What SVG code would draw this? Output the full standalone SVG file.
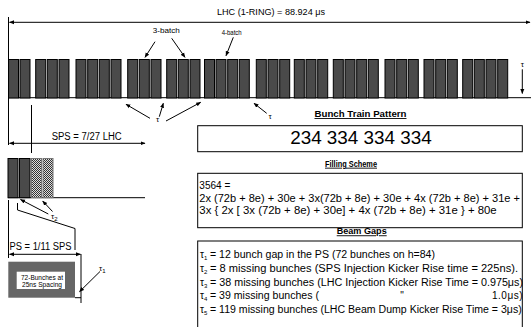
<svg xmlns="http://www.w3.org/2000/svg" width="531" height="327" viewBox="0 0 531 327">
<style>
text{font-family:"Liberation Sans",Arial,sans-serif;fill:#000}
.p{fill:#4a4a4a;stroke:#000;stroke-width:1}
.h{fill:url(#chk);stroke:#777;stroke-width:1}
.ln{stroke:#000;stroke-width:1;fill:none}
.ar{stroke:#000;stroke-width:1;fill:none;marker-end:url(#ah)}
.ar2{stroke:#000;stroke-width:1;fill:none;marker-end:url(#ah);marker-start:url(#ah)}
.box{fill:#fff;stroke:#000;stroke-width:1}
.t{font-size:10px}
.ttl{font-size:9px;font-weight:bold;text-decoration:underline}
.tau{font-size:8px}
.sub{font-size:6px}
</style>
<defs>
<marker id="ah" viewBox="0 0 10 10" refX="9" refY="5" markerWidth="5" markerHeight="5" orient="auto-start-reverse" markerUnits="userSpaceOnUse"><path d="M0,1 L10,5 L0,9 z" fill="#000"/></marker>
<pattern id="chk" width="2" height="2" patternUnits="userSpaceOnUse"><rect width="2" height="2" fill="#ddd"/><rect width="1" height="1" fill="#333"/><rect x="1" y="1" width="1" height="1" fill="#333"/></pattern>
</defs>
<rect width="531" height="327" fill="#fff"/>

<g id="lhc-scale">
<text x="271" y="15" font-size="9" text-anchor="middle" textLength="108" lengthAdjust="spacingAndGlyphs">LHC (1-RING) = 88.924 μs</text>
<line class="ln" x1="8.5" y1="17" x2="8.5" y2="145"/>
</g>

<g id="lhc-train">
<line class="ln" x1="8" y1="97.7" x2="531" y2="97.7"/>
<rect class="p" x="8.5" y="59.5" width="10" height="38.5"/>
<rect class="p" x="20" y="59.5" width="10" height="38.5"/>
<rect class="p" x="35.7" y="59.5" width="10" height="38.5"/>
<rect class="p" x="47.3" y="59.5" width="10" height="38.5"/>
<rect class="p" x="59" y="59.5" width="10" height="38.5"/>
<rect class="p" x="76" y="59.5" width="10" height="38.5"/>
<rect class="p" x="87.7" y="59.5" width="10" height="38.5"/>
<rect class="p" x="99.3" y="59.5" width="10" height="38.5"/>
<rect class="p" x="111" y="59.5" width="10" height="38.5"/>
<rect class="p" x="127.7" y="59.5" width="10" height="38.5"/>
<rect class="p" x="139.3" y="59.5" width="10" height="38.5"/>
<rect class="p" x="151" y="59.5" width="10" height="38.5"/>
<rect class="p" x="166.7" y="59.5" width="10" height="38.5"/>
<rect class="p" x="178.3" y="59.5" width="10" height="38.5"/>
<rect class="p" x="190" y="59.5" width="10" height="38.5"/>
<rect class="p" x="204.5" y="59.5" width="10" height="38.5"/>
<rect class="p" x="216" y="59.5" width="10" height="38.5"/>
<rect class="p" x="227.7" y="59.5" width="10" height="38.5"/>
<rect class="p" x="239.3" y="59.5" width="10" height="38.5"/>
<rect class="p" x="256.3" y="59.5" width="10" height="38.5"/>
<rect class="p" x="268" y="59.5" width="10" height="38.5"/>
<rect class="p" x="279.7" y="59.5" width="10" height="38.5"/>
<rect class="p" x="294.3" y="59.5" width="10" height="38.5"/>
<rect class="p" x="306" y="59.5" width="10" height="38.5"/>
<rect class="p" x="317.7" y="59.5" width="10" height="38.5"/>
<rect class="p" x="333.3" y="59.5" width="10" height="38.5"/>
<rect class="p" x="345" y="59.5" width="10" height="38.5"/>
<rect class="p" x="356.7" y="59.5" width="10" height="38.5"/>
<rect class="p" x="368.3" y="59.5" width="10" height="38.5"/>
<rect class="p" x="385" y="59.5" width="10" height="38.5"/>
<rect class="p" x="396.7" y="59.5" width="10" height="38.5"/>
<rect class="p" x="408.3" y="59.5" width="10" height="38.5"/>
<rect class="p" x="424" y="59.5" width="10" height="38.5"/>
<rect class="p" x="435.7" y="59.5" width="10" height="38.5"/>
<rect class="p" x="447.3" y="59.5" width="10" height="38.5"/>
<rect class="p" x="462.7" y="59.5" width="10" height="38.5"/>
<rect class="p" x="474.3" y="59.5" width="10" height="38.5"/>
<rect class="p" x="486" y="59.5" width="10" height="38.5"/>
<rect class="p" x="497.7" y="59.5" width="10" height="38.5"/>
</g>

<g id="labels-batch">
<text x="166.3" y="33" font-size="8" text-anchor="middle" textLength="27" lengthAdjust="spacingAndGlyphs">3-batch</text>
<text x="231.7" y="35" font-size="7" text-anchor="middle" textLength="20" lengthAdjust="spacingAndGlyphs">4-batch</text>
<text x="157.5" y="122" class="tau" text-anchor="middle">τ</text>
<text x="270" y="119" class="tau" text-anchor="middle">τ</text>
<text x="522.3" y="67" class="tau" text-anchor="middle">τ</text>
</g>

<g id="sps">
<text x="86.7" y="139.5" class="t" text-anchor="middle" textLength="70" lengthAdjust="spacingAndGlyphs">SPS = 7/27 LHC</text>
<line class="ln" x1="31.5" y1="105" x2="31.5" y2="153"/>
<line class="ln" x1="8" y1="197.7" x2="145" y2="197.7"/>
<rect class="p" x="8" y="158.5" width="10" height="39.2"/>
<rect class="p" x="19.5" y="158.5" width="10.5" height="39.2"/>
<rect class="h" x="31.5" y="158.5" width="10" height="39.2"/>
<rect class="h" x="43" y="158.5" width="10" height="39.2"/>
<text x="51" y="219" class="tau">τ<tspan class="sub" dy="2">2</tspan></text>
</g>

<g id="ps">
<line class="ln" x1="8.5" y1="200" x2="8.5" y2="258"/>
<polyline class="ln" points="17.5,203 17.5,210 75,228.5 75,250"/>
<text x="40.5" y="250" class="t" text-anchor="middle" textLength="62" lengthAdjust="spacingAndGlyphs">PS = 1/11 SPS</text>
<line class="ln" x1="81" y1="254" x2="81" y2="303"/>
<rect x="8.3" y="261.7" width="66.7" height="36" fill="#666"/>
<line class="ln" x1="75" y1="297.7" x2="81" y2="297.7"/>
<rect x="16.7" y="271.7" width="48.3" height="17.3" fill="#fff"/>
<text x="42" y="279.5" font-size="7" text-anchor="middle" textLength="42" lengthAdjust="spacingAndGlyphs">72-Bunches at</text>
<text x="42" y="287" font-size="7" text-anchor="middle" textLength="40" lengthAdjust="spacingAndGlyphs">25ns Spacing</text>
<text x="99" y="271" class="tau">τ<tspan class="sub" dy="2">1</tspan></text>
</g>

<g id="bunch-train-pattern">
<text x="360.5" y="117" class="ttl" text-anchor="middle" textLength="92" lengthAdjust="spacingAndGlyphs">Bunch Train Pattern</text>
<rect class="box" x="197.7" y="125.7" width="324.6" height="26"/>
<text x="361" y="143.5" font-size="18" text-anchor="middle" textLength="141.7" lengthAdjust="spacingAndGlyphs">234 334 334 334</text>
</g>

<g id="filling-scheme">
<text x="351" y="166.7" class="ttl" text-anchor="middle" textLength="52" lengthAdjust="spacingAndGlyphs">Filling Scheme</text>
<rect class="box" x="197.7" y="173.3" width="324.6" height="54.4"/>
<text x="199.3" y="189" class="t" textLength="31" lengthAdjust="spacingAndGlyphs">3564 =</text>
<text x="199.3" y="201.7" class="t" textLength="320.7" lengthAdjust="spacingAndGlyphs">2x (72b + 8e) + 30e + 3x(72b + 8e) + 30e + 4x (72b + 8e) + 31e +</text>
<text x="199.3" y="214.3" class="t" textLength="297.4" lengthAdjust="spacingAndGlyphs">3x { 2x [ 3x (72b + 8e) + 30e] + 4x (72b + 8e) + 31e } + 80e</text>
</g>

<g id="beam-gaps">
<text x="361.7" y="234.3" class="ttl" text-anchor="middle" textLength="50" lengthAdjust="spacingAndGlyphs">Beam Gaps</text>
<rect class="box" x="197.7" y="241" width="324.6" height="90"/>
<text x="200" y="258.3" class="t">τ<tspan class="sub" dy="2">1</tspan></text>
<text x="210" y="258.3" class="t" textLength="225" lengthAdjust="spacingAndGlyphs">= 12 bunch gap in the PS (72 bunches on h=84)</text>
<text x="200" y="272" class="t">τ<tspan class="sub" dy="2">2</tspan></text>
<text x="210" y="272" class="t" textLength="308" lengthAdjust="spacingAndGlyphs">= 8 missing bunches (SPS Injection Kicker Rise time = 225ns).</text>
<text x="200" y="285.6" class="t">τ<tspan class="sub" dy="2">3</tspan></text>
<text x="210" y="285.6" class="t" textLength="313" lengthAdjust="spacingAndGlyphs">= 38 missing bunches (LHC Injection Kicker Rise Time = 0.975μs)</text>
<text x="200" y="299.2" class="t">τ<tspan class="sub" dy="2">4</tspan></text>
<text x="210" y="299.2" class="t" textLength="109" lengthAdjust="spacingAndGlyphs">= 39 missing bunches (</text>
<text x="402" y="299.2" class="t" text-anchor="middle">"</text>
<text x="523" y="299.2" class="t" text-anchor="end" letter-spacing="0.5">1.0μs)</text>
<text x="200" y="312.8" class="t">τ<tspan class="sub" dy="2">5</tspan></text>
<text x="210" y="312.8" class="t" textLength="311.7" lengthAdjust="spacingAndGlyphs">= 119 missing bunches (LHC Beam Dump Kicker Rise Time = 3μs)</text>
</g>

<g id="connectors">
<line class="ar2" x1="9.5" y1="22.3" x2="530" y2="22.3"/>
<line class="ar" x1="155" y1="41.7" x2="145" y2="57.3"/>
<line class="ar" x1="171.7" y1="38.3" x2="185" y2="57.3"/>
<line class="ar" x1="233.3" y1="37.3" x2="226" y2="55.7"/>
<line class="ar" x1="150" y1="118.3" x2="126" y2="104.3"/>
<line class="ar" x1="159.3" y1="116.7" x2="163.3" y2="103.3"/>
<line class="ar" x1="166" y1="121" x2="200.7" y2="102.3"/>
<line class="ar" x1="266.7" y1="113.3" x2="254" y2="103.3"/>
<line class="ar" x1="522.3" y1="69.3" x2="522.3" y2="93.5"/>
<line class="ar2" x1="9.5" y1="143.3" x2="145" y2="143.3"/>
<line class="ar" x1="48.3" y1="214" x2="20.5" y2="199.5"/>
<line class="ar" x1="52.5" y1="211.5" x2="42.7" y2="201"/>
<line class="ar2" x1="9.5" y1="254.3" x2="80.5" y2="254.3"/>
<line class="ar" x1="100" y1="271.5" x2="79.5" y2="291.7"/>
</g>
</svg>
